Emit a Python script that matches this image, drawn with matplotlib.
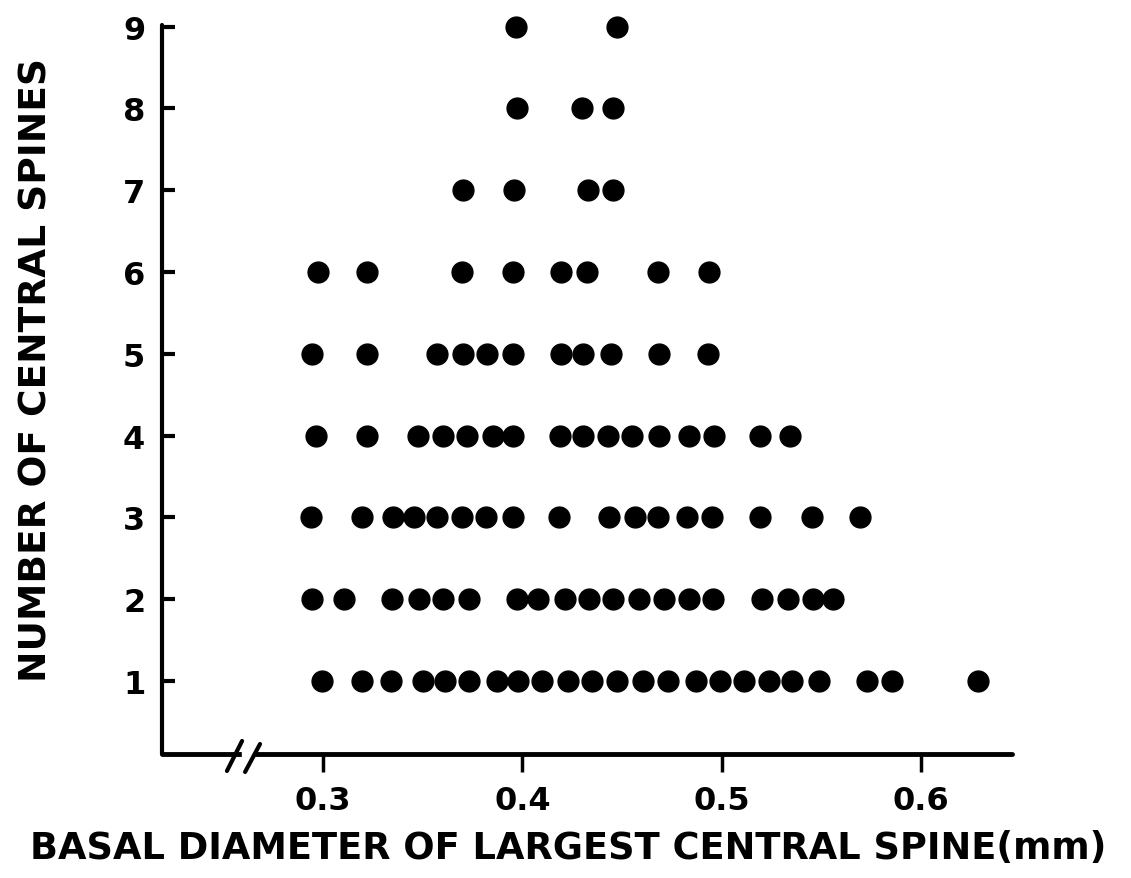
import matplotlib
matplotlib.use("Agg")
import matplotlib.pyplot as plt

# basal diameter (mm) of dots in each row
row1 = [0.2995, 0.3196, 0.3341, 0.3502, 0.3612, 0.3733, 0.3873, 0.3978, 0.4099,
        0.4229, 0.4350, 0.4475, 0.4606, 0.4731, 0.4872, 0.4992, 0.5112, 0.5238,
        0.5353, 0.5489, 0.5730, 0.5855, 0.6287]
row2 = [0.2945, 0.3105, 0.3346, 0.3482, 0.3602, 0.3733, 0.3973, 0.4079, 0.4214,
        0.4335, 0.4455, 0.4586, 0.4711, 0.4836, 0.4957, 0.5203, 0.5333, 0.5459,
        0.5559]
row3 = [0.2940, 0.3196, 0.3351, 0.3457, 0.3572, 0.3697, 0.3818, 0.3953, 0.4184,
        0.4435, 0.4566, 0.4681, 0.4826, 0.4952, 0.5193, 0.5454, 0.5694]
row4 = [0.2965, 0.3221, 0.3477, 0.3602, 0.3723, 0.3853, 0.3953, 0.4189, 0.4305,
        0.4430, 0.4550, 0.4686, 0.4836, 0.4962, 0.5193, 0.5343]
row5 = [0.2945, 0.3221, 0.3572, 0.3702, 0.3823, 0.3953, 0.4194, 0.4305, 0.4445,
        0.4686, 0.4932]
row6 = [0.2975, 0.3221, 0.3697, 0.3953, 0.4194, 0.4325, 0.4681, 0.4937]
row7 = [0.3702, 0.3958, 0.4330, 0.4455]
row8 = [0.3973, 0.4300, 0.4455]
row9 = [0.3968, 0.4475]
rows = [row1, row2, row3, row4, row5, row6, row7, row8, row9]
spines = [1, 2, 3, 4, 5, 6, 7, 8, 9]

xticks = [0.3, 0.4, 0.5, 0.6]
xticklabels = ["0.3", "0.4", "0.5", "0.6"]

plt.rcParams['font.family'] = ['DejaVu Sans']
plt.rcParams['font.weight'] = 'bold'

fig = plt.figure(figsize=(11.31, 8.79), dpi=100)
ax = fig.add_axes([0.1432, 0.1411, 0.7516, 0.8293])

for n, xs in zip(spines, rows):
    ax.plot(xs, [n] * len(xs), 'o', color='black', markersize=15, clip_on=False)

ax.set_xlim(0.2192, 0.6457)
ax.set_ylim(0.107, 9.02)

for s in ['top', 'right']:
    ax.spines[s].set_visible(False)
ax.spines['left'].set_linewidth(3)
ax.spines['bottom'].set_linewidth(3.5)
ax.spines['left'].set_capstyle('round')
ax.spines['bottom'].set_capstyle('round')

ax.set_yticks(spines)
ax.set_xticks(xticks)
ax.set_xticklabels(xticklabels)
ax.tick_params(axis='y', direction='in', length=9, width=3, pad=12, labelsize=23)
ax.tick_params(axis='x', direction='out', length=13, width=2.5, pad=9, labelsize=23)

# axis break on the x axis
ax.axvspan(0.2594, 0.2650, ymin=-0.01, ymax=0.008, color='white', clip_on=False, zorder=3)
ax.plot([0.2518, 0.2594], [-0.101, 0.266], color='black', lw=3, clip_on=False, zorder=4,
        solid_capstyle='round')
ax.plot([0.2609, 0.2684], [-0.113, 0.229], color='black', lw=3, clip_on=False, zorder=4,
        solid_capstyle='round')

fig.text(0.5022, 0.035, "BASAL DIAMETER OF LARGEST CENTRAL SPINE(mm)",
         ha='center', va='center', fontsize=26.5, fontweight='bold')
fig.text(0.032, 0.579, "NUMBER OF CENTRAL SPINES", rotation=90,
         ha='center', va='center', fontsize=27, fontweight='bold')

fig.savefig("out.png", dpi=100)
